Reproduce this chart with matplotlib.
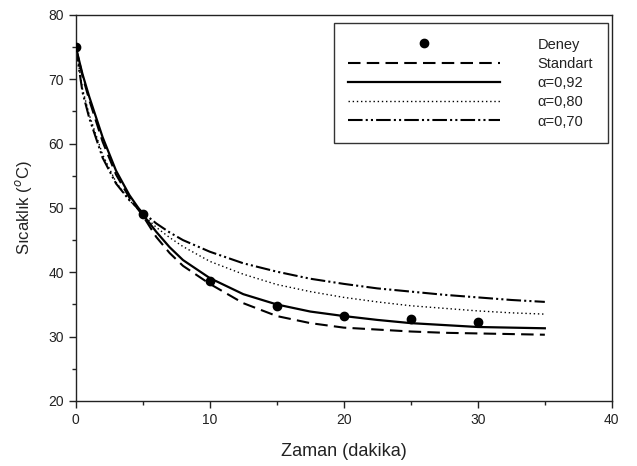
import numpy as np
import matplotlib.pyplot as plt
from matplotlib.ticker import MultipleLocator

plt.rcParams['font.family'] = ['Liberation Sans', 'DejaVu Sans']

# deney verileri
t_deney = [0, 5, 10, 15, 20, 25, 30]
T_deney = [75.0, 49.0, 38.6, 34.8, 33.2, 32.7, 32.3]

# model egrileri
t_model = [0, 0.5, 1, 2, 3, 4, 5, 6, 7, 8, 10, 12.5, 15, 17.5, 20, 22.5, 25, 27.5, 30, 32.5, 35]
T_std = [75.0, 70.5, 66.8, 60.3, 55.2, 51.6, 48.8, 45.5, 43.0, 41.0, 38.2, 35.2, 33.2, 32.1,
         31.4, 31.1, 30.8, 30.6, 30.5, 30.4, 30.3]
T_092 = [75.0, 70.8, 67.3, 61.0, 55.8, 52.0, 49.0, 46.3, 43.9, 41.9, 39.1, 36.6, 35.0, 33.9,
         33.2, 32.6, 32.1, 31.8, 31.5, 31.4, 31.3]
T_080 = [75.0, 68.5, 64.5, 58.3, 54.0, 51.2, 49.0, 47.0, 45.4, 44.0, 41.7, 39.7, 38.1, 37.0,
         36.1, 35.4, 34.8, 34.4, 34.0, 33.7, 33.5]
T_070 = [75.0, 68.0, 64.0, 57.8, 53.8, 51.2, 49.3, 47.6, 46.2, 45.0, 43.2, 41.4, 40.1, 39.0,
         38.2, 37.5, 37.0, 36.5, 36.1, 35.7, 35.4]

fig = plt.figure(figsize=(6.37, 4.66), dpi=100)
ax = fig.add_axes([0.119, 0.1395, 0.8415, 0.8285])

ax.plot(t_deney, T_deney, 'o', color='black', markersize=6, label='Deney', zorder=5)
ax.plot(t_model, T_std, color='black', lw=1.5, linestyle=(0, (6, 3)), label='Standart')
ax.plot(t_model, T_092, color='black', lw=1.6, linestyle='-', label='α=0,92')
ax.plot(t_model, T_080, color='black', lw=1.0, linestyle=(0, (1, 2)), label='α=0,80')
ax.plot(t_model, T_070, color='black', lw=1.5,
        linestyle=(0, (7, 1.5, 1, 1.5, 1, 1.5)), label='α=0,70')

ax.set_xlim(0, 40)
ax.set_ylim(20, 80)
ax.xaxis.set_major_locator(MultipleLocator(10))
ax.xaxis.set_minor_locator(MultipleLocator(5))
ax.yaxis.set_major_locator(MultipleLocator(10))
ax.yaxis.set_minor_locator(MultipleLocator(5))
ax.tick_params(which='major', direction='out', length=5, width=1, labelsize=10, colors='#222222')
ax.tick_params(which='minor', direction='out', length=3, width=1, color='#222222')
for s in ax.spines.values():
    s.set_linewidth(1)
    s.set_color('#222222')

ax.set_xlabel('Zaman (dakika)', fontsize=13, color='#222222', labelpad=12)
ax.set_ylabel('Sıcaklık ($^{o}$C)', fontsize=12, color='#222222', labelpad=10)

leg = ax.legend(loc='upper right', bbox_to_anchor=(0.9925, 0.979), borderaxespad=0,
                fontsize=10.5, handlelength=10.4, handletextpad=2.6, labelspacing=0.36,
                numpoints=1, fancybox=False, framealpha=1, edgecolor='#333333',
                borderpad=1.0)
leg.get_frame().set_linewidth(1)
for txt in leg.get_texts():
    txt.set_color('#222222')

plt.savefig('out.png', dpi=100)
